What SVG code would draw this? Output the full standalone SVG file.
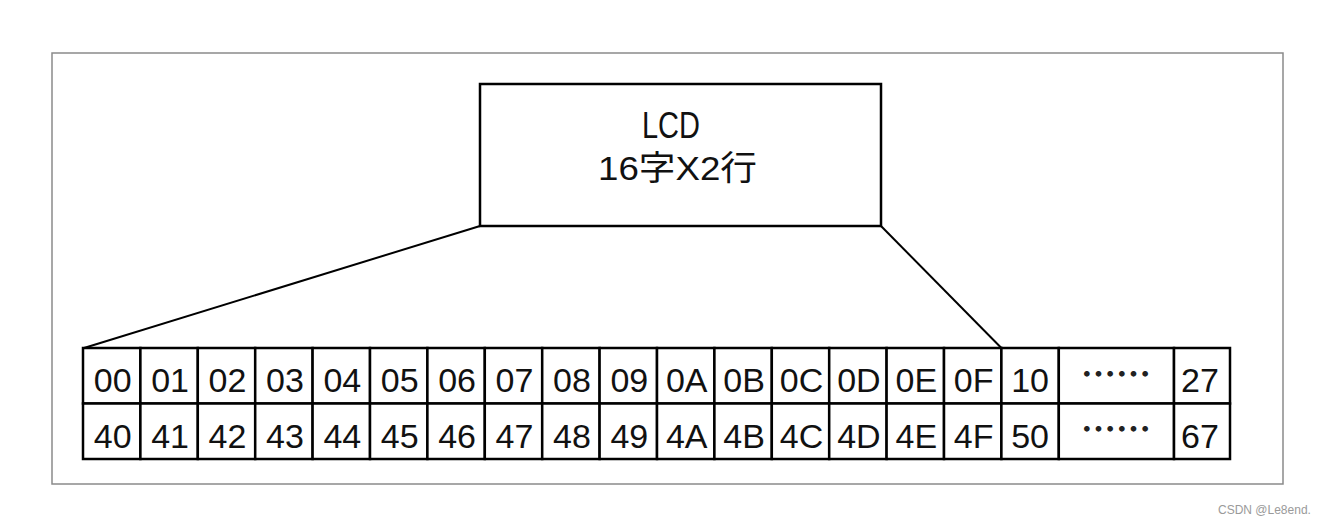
<svg xmlns="http://www.w3.org/2000/svg" width="1327" height="525" viewBox="0 0 1327 525">
<style>
.frame{fill:#fff;stroke:#8a8a8a;stroke-width:1.5}
.box{fill:#fff;stroke:#000;stroke-width:2.5}
.cell{fill:#fff;stroke:#000;stroke-width:2.5}
.lbl{font-family:"Liberation Sans","Noto Sans CJK JP","Noto Sans CJK SC",sans-serif;font-size:34px;fill:#111;text-anchor:middle}
.lbl-big{font-size:37px}
.ct{font-family:"Liberation Sans",Arial,sans-serif;font-size:34px;fill:#111;text-anchor:middle}
.dots{font-family:"Noto Sans CJK SC",sans-serif;font-size:35px;font-weight:bold;fill:#222;text-anchor:middle}
.wm{font-family:"Liberation Sans",Arial,sans-serif;font-size:12px;fill:#9a9a9a}
.conn{stroke:#000;stroke-width:2;fill:none}
</style>
<rect width="1327" height="525" fill="#fff"/>
<rect class="frame" x="52" y="53" width="1231" height="431"/>
<g id="connectors">
<line class="conn" x1="480" y1="226" x2="84" y2="348"/>
<line class="conn" x1="881" y1="226" x2="1001.4" y2="348"/>
</g>
<g id="lcd">
<rect class="box" x="480" y="84" width="401" height="142"/>
<text class="lbl lbl-big" x="671" y="138" textLength="58" lengthAdjust="spacingAndGlyphs">LCD</text>
<text class="lbl" x="677.5" y="180" textLength="159" lengthAdjust="spacingAndGlyphs">16字X2行</text>
</g>
<g id="row0">
<g id="c00"><rect class="cell" x="83" y="348" width="57.4" height="55.5"/><text class="ct" x="112.7" y="391.5">00</text></g>
<g id="c01"><rect class="cell" x="140.4" y="348" width="57.4" height="55.5"/><text class="ct" x="170.1" y="391.5">01</text></g>
<g id="c02"><rect class="cell" x="197.8" y="348" width="57.4" height="55.5"/><text class="ct" x="227.5" y="391.5">02</text></g>
<g id="c03"><rect class="cell" x="255.2" y="348" width="57.4" height="55.5"/><text class="ct" x="284.9" y="391.5">03</text></g>
<g id="c04"><rect class="cell" x="312.6" y="348" width="57.4" height="55.5"/><text class="ct" x="342.3" y="391.5">04</text></g>
<g id="c05"><rect class="cell" x="370" y="348" width="57.4" height="55.5"/><text class="ct" x="399.7" y="391.5">05</text></g>
<g id="c06"><rect class="cell" x="427.4" y="348" width="57.4" height="55.5"/><text class="ct" x="457.1" y="391.5">06</text></g>
<g id="c07"><rect class="cell" x="484.8" y="348" width="57.4" height="55.5"/><text class="ct" x="514.5" y="391.5">07</text></g>
<g id="c08"><rect class="cell" x="542.2" y="348" width="57.4" height="55.5"/><text class="ct" x="571.9" y="391.5">08</text></g>
<g id="c09"><rect class="cell" x="599.6" y="348" width="57.4" height="55.5"/><text class="ct" x="629.3" y="391.5">09</text></g>
<g id="c0A"><rect class="cell" x="657" y="348" width="57.4" height="55.5"/><text class="ct" x="686.7" y="391.5">0A</text></g>
<g id="c0B"><rect class="cell" x="714.4" y="348" width="57.4" height="55.5"/><text class="ct" x="744.1" y="391.5">0B</text></g>
<g id="c0C"><rect class="cell" x="771.8" y="348" width="57.4" height="55.5"/><text class="ct" x="801.5" y="391.5">0C</text></g>
<g id="c0D"><rect class="cell" x="829.2" y="348" width="57.4" height="55.5"/><text class="ct" x="858.9" y="391.5">0D</text></g>
<g id="c0E"><rect class="cell" x="886.6" y="348" width="57.4" height="55.5"/><text class="ct" x="916.3" y="391.5">0E</text></g>
<g id="c0F"><rect class="cell" x="944" y="348" width="57.4" height="55.5"/><text class="ct" x="973.7" y="391.5">0F</text></g>
<g id="c10"><rect class="cell" x="1001.4" y="348" width="57.4" height="55.5"/><text class="ct" x="1030.1" y="391.5">10</text></g>
<g id="c0dots"><rect class="cell" x="1058.8" y="348" width="115.2" height="55.5"/><text class="dots" x="1116" y="386.5">……</text></g>
<g id="c27"><rect class="cell" x="1174" y="348" width="56" height="55.5"/><text class="ct" x="1200" y="391.5">27</text></g>
</g>
<g id="row1">
<g id="c40"><rect class="cell" x="83" y="403.5" width="57.4" height="55.5"/><text class="ct" x="112.7" y="448">40</text></g>
<g id="c41"><rect class="cell" x="140.4" y="403.5" width="57.4" height="55.5"/><text class="ct" x="170.1" y="448">41</text></g>
<g id="c42"><rect class="cell" x="197.8" y="403.5" width="57.4" height="55.5"/><text class="ct" x="227.5" y="448">42</text></g>
<g id="c43"><rect class="cell" x="255.2" y="403.5" width="57.4" height="55.5"/><text class="ct" x="284.9" y="448">43</text></g>
<g id="c44"><rect class="cell" x="312.6" y="403.5" width="57.4" height="55.5"/><text class="ct" x="342.3" y="448">44</text></g>
<g id="c45"><rect class="cell" x="370" y="403.5" width="57.4" height="55.5"/><text class="ct" x="399.7" y="448">45</text></g>
<g id="c46"><rect class="cell" x="427.4" y="403.5" width="57.4" height="55.5"/><text class="ct" x="457.1" y="448">46</text></g>
<g id="c47"><rect class="cell" x="484.8" y="403.5" width="57.4" height="55.5"/><text class="ct" x="514.5" y="448">47</text></g>
<g id="c48"><rect class="cell" x="542.2" y="403.5" width="57.4" height="55.5"/><text class="ct" x="571.9" y="448">48</text></g>
<g id="c49"><rect class="cell" x="599.6" y="403.5" width="57.4" height="55.5"/><text class="ct" x="629.3" y="448">49</text></g>
<g id="c4A"><rect class="cell" x="657" y="403.5" width="57.4" height="55.5"/><text class="ct" x="686.7" y="448">4A</text></g>
<g id="c4B"><rect class="cell" x="714.4" y="403.5" width="57.4" height="55.5"/><text class="ct" x="744.1" y="448">4B</text></g>
<g id="c4C"><rect class="cell" x="771.8" y="403.5" width="57.4" height="55.5"/><text class="ct" x="801.5" y="448">4C</text></g>
<g id="c4D"><rect class="cell" x="829.2" y="403.5" width="57.4" height="55.5"/><text class="ct" x="858.9" y="448">4D</text></g>
<g id="c4E"><rect class="cell" x="886.6" y="403.5" width="57.4" height="55.5"/><text class="ct" x="916.3" y="448">4E</text></g>
<g id="c4F"><rect class="cell" x="944" y="403.5" width="57.4" height="55.5"/><text class="ct" x="973.7" y="448">4F</text></g>
<g id="c50"><rect class="cell" x="1001.4" y="403.5" width="57.4" height="55.5"/><text class="ct" x="1030.1" y="448">50</text></g>
<g id="c1dots"><rect class="cell" x="1058.8" y="403.5" width="115.2" height="55.5"/><text class="dots" x="1116" y="442">……</text></g>
<g id="c67"><rect class="cell" x="1174" y="403.5" width="56" height="55.5"/><text class="ct" x="1200" y="448">67</text></g>
</g>
<text class="wm" x="1218" y="514">CSDN @Le8end.</text>
</svg>
